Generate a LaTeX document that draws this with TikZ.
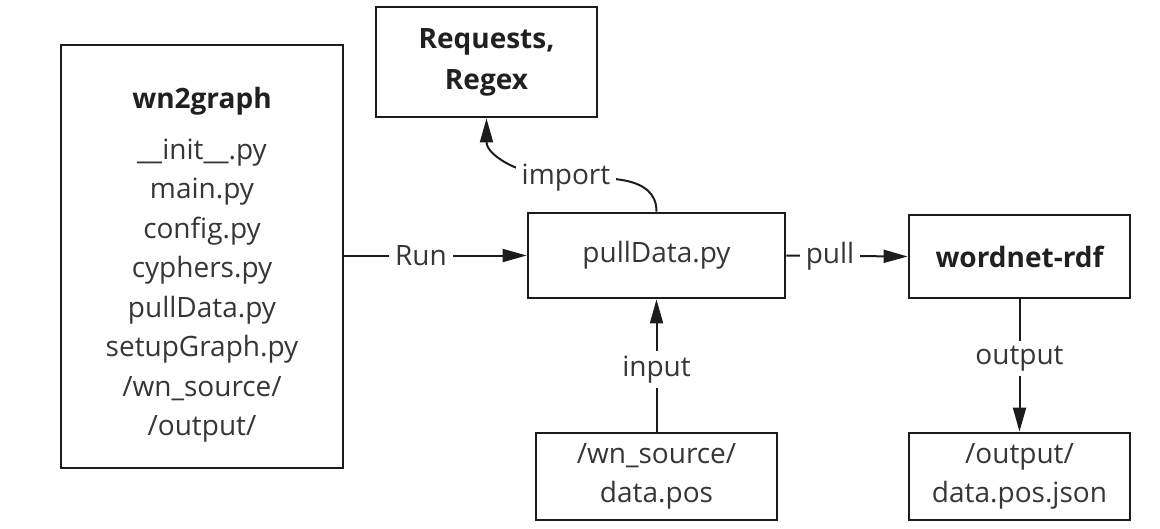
\documentclass[tikz,border=0pt]{standalone}
\usepackage{fontspec}
\setmainfont{Open Sans}
\usetikzlibrary{arrows.meta}
\definecolor{linec}{HTML}{1C1C1C}
\definecolor{txt}{HTML}{363636}
\definecolor{btxt}{HTML}{202020}
\begin{document}
\begin{tikzpicture}[x=1pt,y=-1pt,
  font=\fontsize{28}{39.5}\selectfont,
  box/.style={draw=linec, line width=2.8pt, inner sep=0pt, align=center, text=txt},
  bold/.style={font=\fontsize{28}{41}\selectfont\bfseries, text=btxt},
  arr/.style={draw=linec, line width=2pt, -{Triangle[length=24pt,width=13pt]}},
  lbl/.style={fill=white, text=txt, inner xsep=6pt, inner ysep=5pt}]
\useasboundingbox (0,0) rectangle (1160,528);
% boxes
\node[box, minimum width=282pt, minimum height=423pt] (wn) at (202,256.5) {};
\node[text=txt, align=center, anchor=north] (wnt) at (202,84)
  {\textbf{\textcolor{btxt}{wn2graph}}\\[11pt]
   \_\_init\_\_.py\\ main.py\\ config.py\\ cyphers.py\\ pullData.py\\ setupGraph.py\\ /wn\_source/\\ /output/};
\node[box, bold, minimum width=221pt, minimum height=110pt] (req) at (486.5,62) {Requests,\\ Regex};
\node[box, minimum width=257pt, minimum height=85pt] (pull) at (656.5,255.5) {pullData.py};
\node[box, bold, minimum width=221pt, minimum height=83pt] (wrdf) at (1019.5,256.5) {wordnet-rdf};
\node[box, minimum width=241pt, minimum height=87pt] (src) at (656.5,476.5) {/wn\_source/\\ data.pos};
\node[box, minimum width=221pt, minimum height=87pt] (out) at (1019.5,476.5) {/output/\\ data.pos.json};
% connectors
\draw[arr] (wn.east |- pull.west) -- node[lbl, pos=0.42] {Run} (pull.west);
\draw[arr] (pull.east) -- node[lbl, pos=0.36] {pull} (wrdf.west);
\draw[arr] (src.north) -- node[lbl, pos=0.47] {input} (pull.south);
\draw[arr] (wrdf.south) -- node[lbl, pos=0.45] {output} (out.north);
\coordinate (imp) at (566,178);
\draw[arr] (pull.north) to[out=90,in=0] (imp) to[out=180,in=-90] (req.south);
\node[lbl] (impl) at (imp) {import};
\end{tikzpicture}
\end{document}
